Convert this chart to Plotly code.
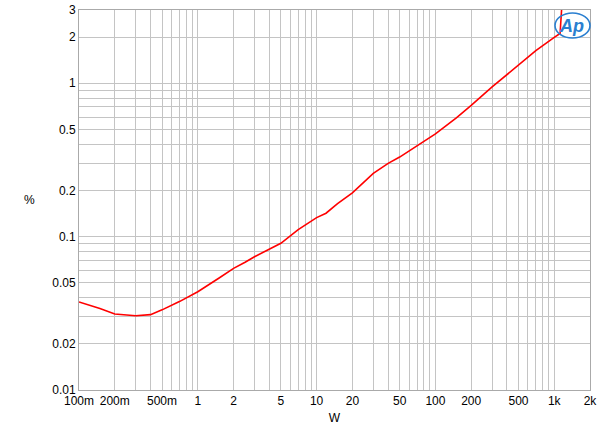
import plotly.graph_objects as go
import numpy as np

# Data (W vs THD+N %)
power_w = [0.1, 0.15, 0.2, 0.3, 0.4, 0.5, 0.7, 1, 1.5, 2, 2.5, 3, 5, 7, 10, 12, 15, 20, 30, 40, 50, 70, 100, 150, 200, 300, 500, 700, 1000, 1120, 1180]
thd_pct = [0.0375, 0.0340, 0.0313, 0.0305, 0.0310, 0.0333, 0.0377, 0.0437, 0.0535, 0.0621, 0.0680, 0.0739, 0.0904, 0.111, 0.133, 0.142, 0.164, 0.193, 0.258, 0.300, 0.330, 0.390, 0.467, 0.595, 0.716, 0.945, 1.31, 1.63, 1.99, 2.11, 4.0]

x_labels = {0.1: "100m", 0.2: "200m", 0.5: "500m", 1: "1", 2: "2", 5: "5", 10: "10",
            20: "20", 50: "50", 100: "100", 200: "200", 500: "500", 1000: "1k", 2000: "2k"}
y_labels = {0.01: "0.01", 0.02: "0.02", 0.05: "0.05", 0.1: "0.1", 0.2: "0.2", 0.5: "0.5",
            1: "1", 2: "2", 3: "3"}

def grid_vals(lo_dec, hi_dec, vmax):
    vals = []
    for d in range(lo_dec, hi_dec + 1):
        for m in range(1, 10):
            v = round(m * 10.0 ** d, 6)
            if v <= vmax * 1.0001:
                vals.append(v)
    return vals

xv = grid_vals(-1, 3, 2000)
yv = grid_vals(-2, 0, 3)

def label_for(v, labels):
    for k, t in labels.items():
        if abs(v - k) / k < 1e-6:
            return t
    return ""

fig = go.Figure()
fig.add_trace(go.Scatter(x=power_w, y=thd_pct, mode="lines",
                         line=dict(color="#ff0000", width=1.6), hoverinfo="skip"))

L, T, R, B = 79, 10, 590, 390
W, H = 600, 436
PW, PH = R - L, B - T

gridc = "#c4c4c4"
fig.update_layout(
    width=W, height=H,
    margin=dict(l=L, r=W - R, t=T, b=H - B, autoexpand=False),
    paper_bgcolor="white", plot_bgcolor="white",
    showlegend=False,
    font=dict(family="Liberation Sans, Arial, sans-serif", size=12, color="#000000"),
    xaxis=dict(type="log", range=[np.log10(0.1), np.log10(2000)],
               tickvals=xv, ticktext=[label_for(v, x_labels) for v in xv],
               showgrid=True, gridcolor=gridc, gridwidth=1, automargin=False,
               showline=True, linecolor="#aaaaaa", mirror=True, ticks="",
               zeroline=False, tickfont=dict(size=12),
               title=dict(text="W", font=dict(size=12), standoff=6)),
    yaxis=dict(type="log", range=[np.log10(0.01), np.log10(3)],
               tickvals=yv, ticktext=[label_for(v, y_labels) for v in yv],
               showgrid=True, gridcolor=gridc, gridwidth=1, automargin=False,
               showline=True, linecolor="#aaaaaa", mirror=True, ticks="",
               zeroline=False, tickfont=dict(size=12)),
)

def px_x(px):
    return (px - L) / PW

def px_y(py):
    return (B - py) / PH

fig.add_annotation(text="%", xref="paper", yref="paper",
                   x=px_x(22), y=px_y(200), showarrow=False,
                   font=dict(size=12))

# AP logo
fig.add_shape(type="circle", xref="paper", yref="paper",
              x0=px_x(555), x1=px_x(590), y0=px_y(38), y1=px_y(13),
              line=dict(color="#2a7fd0", width=1.6), fillcolor="rgba(255,255,255,0)")
fig.add_annotation(text="<i><b>Ap</b></i>", xref="paper", yref="paper",
                   x=px_x(571), y=px_y(26), showarrow=False,
                   xanchor="center", yanchor="middle",
                   font=dict(size=18, color="#2a7fd0", family="Liberation Sans, Arial"))

fig.write_html("out.html",
               config={"displayModeBar": False},
               post_script="document.body.style.margin='0';document.body.style.overflow='hidden';")
